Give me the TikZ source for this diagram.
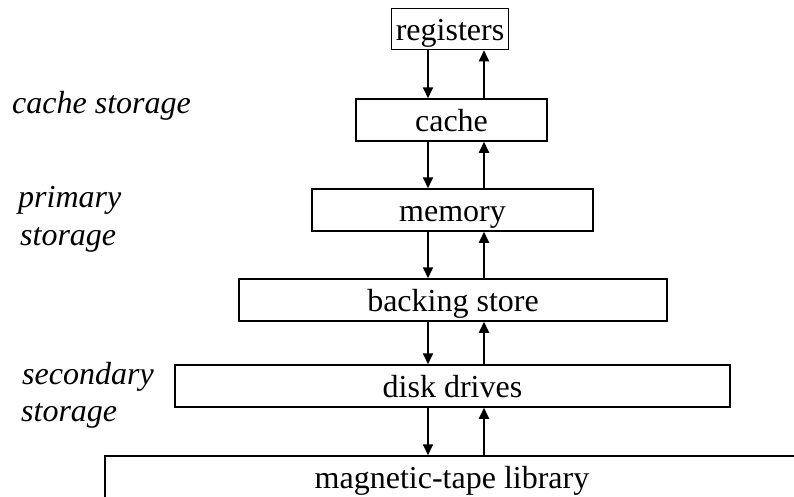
\documentclass[tikz,border=0pt]{standalone}
\usepackage{fontspec}
\setmainfont{Liberation Serif}
\usetikzlibrary{arrows.meta}
\begin{document}
\begin{tikzpicture}[x=1pt,y=-1pt,
  level/.style={draw,line width=1.5pt,rectangle,inner sep=0pt,text height=22pt,text depth=0pt,minimum height=42pt,font=\fontsize{32}{38}\selectfont},
  lbl/.style={anchor=base west,inner sep=0pt,font=\fontsize{32}{38}\selectfont\itshape},
  flow/.style={line width=1.8pt,-{Triangle[length=11pt,width=10pt]}}]
\useasboundingbox (0,0) rectangle (794,496);
\clip (0,0) rectangle (794,496);
\node[level,minimum width=117pt,minimum height=41pt] (reg) at (450,29) {registers};
\node[level,minimum width=191pt] (cache) at (451.5,120) {cache};
\node[level,minimum width=281pt] (mem) at (452.5,210) {memory};
\node[level,minimum width=428pt] (back) at (453,300) {backing store};
\node[level,minimum width=555pt] (disk) at (452.5,386) {disk drives};
\node[level,minimum width=694pt] (tape) at (452,477) {magnetic-tape library};
\node[lbl] (cachelbl) at (12,113) {cache storage};
\node[lbl] (prim1) at (18,207) {primary};
\node[lbl] (prim2) at (20,245) {storage};
\node[lbl] (sec1) at (22,384) {secondary};
\node[lbl] (sec2) at (21,421) {storage};
\coordinate (dn) at (428,0);
\coordinate (up) at (484,0);
\foreach \a/\b in {reg/cache,cache/mem,mem/back,back/disk,disk/tape} {
  \draw[flow] (\a.south -| dn) -- (\b.north -| dn);
  \draw[flow] (\b.north -| up) -- (\a.south -| up);
}
\end{tikzpicture}
\end{document}
